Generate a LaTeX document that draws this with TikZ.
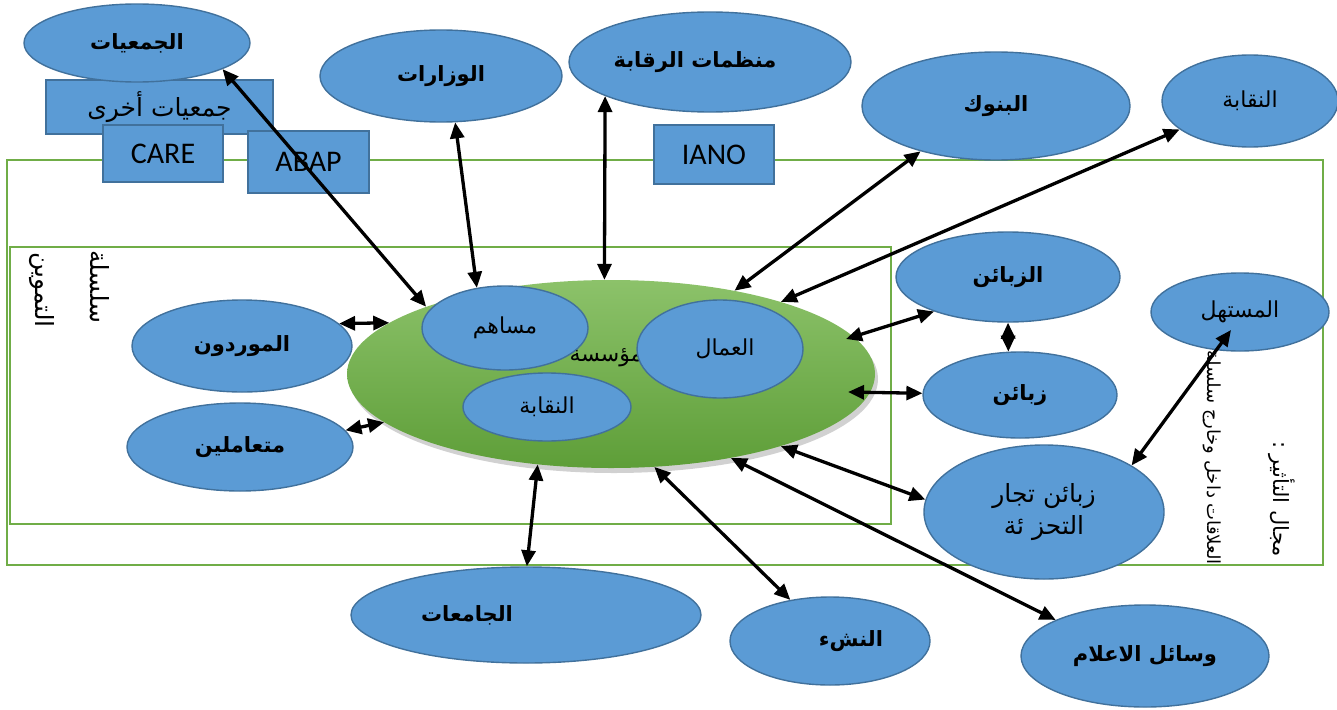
\documentclass[tikz,border=0pt]{standalone}
\usepackage{fontspec}
\usetikzlibrary{shapes.geometric,arrows.meta}
\TeXXeTstate=1
\newfontfamily\arfont[Script=Arabic]{DejaVu Sans}
\setsansfont{Carlito}
\newcommand\artxt[1]{{\arfont\beginR #1\endR}}

\definecolor{bluefill}{HTML}{5B9BD5}
\definecolor{blueedge}{HTML}{41719C}
\definecolor{framegreen}{HTML}{70AD47}
\definecolor{orgtop}{HTML}{8CC26A}
\definecolor{orgbot}{HTML}{5E9E38}

\begin{document}
\begin{tikzpicture}[x=1pt,y=-1pt,
  blob/.style={ellipse, draw=blueedge, fill=bluefill, line width=1.4pt, inner sep=0pt},
  tag/.style={rectangle, draw=blueedge, fill=bluefill, line width=1.4pt, inner sep=0pt},
  frame/.style={draw=framegreen, line width=2pt},
  boldlbl/.style={font=\fontsize{21}{24}\selectfont\bfseries},
  plainlbl/.style={font=\fontsize{22}{26}\selectfont},
  link/.style={line width=3.3pt, {Triangle[length=16pt,width=14pt]}-{Triangle[length=16pt,width=14pt]}},
  vtext/.style={rotate=-90, inner sep=0pt}
]
\useasboundingbox (0,0) rectangle (1337,709);

% frames: field of influence and supply chain
\draw[frame] (7,160) rectangle (1323,565);
\draw[frame] (10,247) rectangle (891,524);

% vertical captions
\node[vtext, anchor=west, font=\fontsize{25}{30}\selectfont] (chainA) at (100,250) {\artxt{سلسلة}};
\node[vtext, anchor=west, font=\fontsize{25}{30}\selectfont] (chainB) at (42,252) {\artxt{التموين}};
\node[vtext, anchor=east, font=\fontsize{21}{25}\selectfont] (fieldA) at (1282,557) {\artxt{مجال التأثير :}};
\node[vtext, anchor=east, font=\fontsize{18}{22}\selectfont] (fieldB) at (1212,565) {\artxt{العلاقات داخل وخارج سلسلة}};

% associations and partner boxes
\node[tag, minimum width=227, minimum height=54, font=\fontsize{25}{28}\selectfont] (other) at (159.5,107) {\raisebox{-5pt}{\artxt{جمعيات أخرى}}};
\node[blob, minimum width=226, minimum height=78, boldlbl] (jam) at (137,43) {\raisebox{-4pt}{\artxt{الجمعيات}}};
\node[tag, minimum width=120, minimum height=57, font=\fontsize{30}{34}\selectfont\sffamily] (care) at (163,153.5) {CARE};
\node[tag, minimum width=121, minimum height=62, font=\fontsize{30}{34}\selectfont\sffamily] (abap) at (308.5,162) {ABAP};
\node[tag, minimum width=120, minimum height=59, font=\fontsize{30}{34}\selectfont\sffamily] (iano) at (714,154.5) {IANO};

% outer actors
\node[blob, minimum width=242, minimum height=92, boldlbl] (wiz) at (441,76) {\artxt{الوزارات}};
\node[blob, minimum width=282, minimum height=100, boldlbl] (raq) at (710,62) {\artxt{منظمات الرقابة}\hspace*{30pt}};
\node[blob, minimum width=268, minimum height=108, boldlbl] (bnk) at (996,106) {\artxt{البنوك}};
\node[blob, minimum width=176, minimum height=92, plainlbl] (niqT) at (1250,101) {\artxt{النقابة}};
\node[blob, minimum width=224, minimum height=90, boldlbl] (zb1) at (1008,277) {\raisebox{3pt}{\artxt{الزبائن}}};
\node[blob, minimum width=178, minimum height=78, plainlbl] (mst) at (1240,312) {\raisebox{-4pt}{\artxt{المستهل}}};
\node[blob, minimum width=194, minimum height=86, boldlbl] (zb2) at (1020,395) {\artxt{زبائن}};
\node[blob, minimum width=240, minimum height=134, align=center, font=\fontsize{25}{30}\selectfont] (tjr) at (1044,512) {\artxt{زبائن تجار}\\[2pt]\artxt{التحز ئة}};
\node[blob, minimum width=220, minimum height=92, boldlbl] (mwr) at (242,346) {\artxt{الموردون}};
\node[blob, minimum width=226, minimum height=88, boldlbl] (mta) at (240,447) {\raisebox{-5pt}{\artxt{متعاملين}}};
\node[blob, minimum width=350, minimum height=96, boldlbl] (jmt) at (526,615) {\artxt{الجامعات}\hspace*{118pt}};
\node[blob, minimum width=200, minimum height=88, boldlbl] (nsh) at (830,641) {\hspace*{42pt}\artxt{النشء}};
\node[blob, minimum width=248, minimum height=102, boldlbl] (wsl) at (1145,656) {\raisebox{-3pt}{\artxt{وسائل الاعلام}}};

% the enterprise and its internal actors
\fill[black, opacity=0.18] (614,379) ellipse [x radius=264, y radius=94];
\node[ellipse, minimum width=528, minimum height=188, inner sep=0pt, top color=orgtop, bottom color=orgbot] (org) at (611,374) {};
\node[plainlbl, inner sep=0pt] (orglbl) at (606,358) {\artxt{مؤسسة}};
\node[blob, minimum width=166, minimum height=84, plainlbl] (msh) at (505,328) {\artxt{مساهم}};
\node[blob, minimum width=166, minimum height=98, plainlbl] (aml) at (720,349) {\hspace*{10pt}\artxt{العمال}};
\node[blob, minimum width=168, minimum height=68, plainlbl] (niqI) at (547,407) {\artxt{النقابة}};

% relations
\draw[link] (jam.-17) -- (org.160.3);
\draw[link] (wiz.-73) -- (msh.125);
\draw[link] (raq.-162.4) -- (org.94.4);
\draw[link] (bnk.-149) -- (org.34.6);
\draw[link] (niqT.-158) -- (org.23.6);
\draw[link] (mwr.13.6) -- (org.167);
\draw[link] (mta.9) -- (org.-168);
\draw[link] ([shift={(235,-35)}]org.center) -- (zb1.-155.9);
\draw[link] (zb1.-90) -- (zb2.105.6);
\draw[link] ([shift={(237,18)}]org.center) -- (zb2.179.4);
\draw[link] (org.-23.7) -- (tjr.174.4);
\draw[link] ([shift={(-9,18)}]mst.center) -- (tjr.28.6);
\draw[link] (org.-129) -- (jmt.89);
\draw[link] (org.-65.4) -- (nsh.134.3);
\draw[link] (org.-35.2) -- (wsl.158);
\end{tikzpicture}
\end{document}
